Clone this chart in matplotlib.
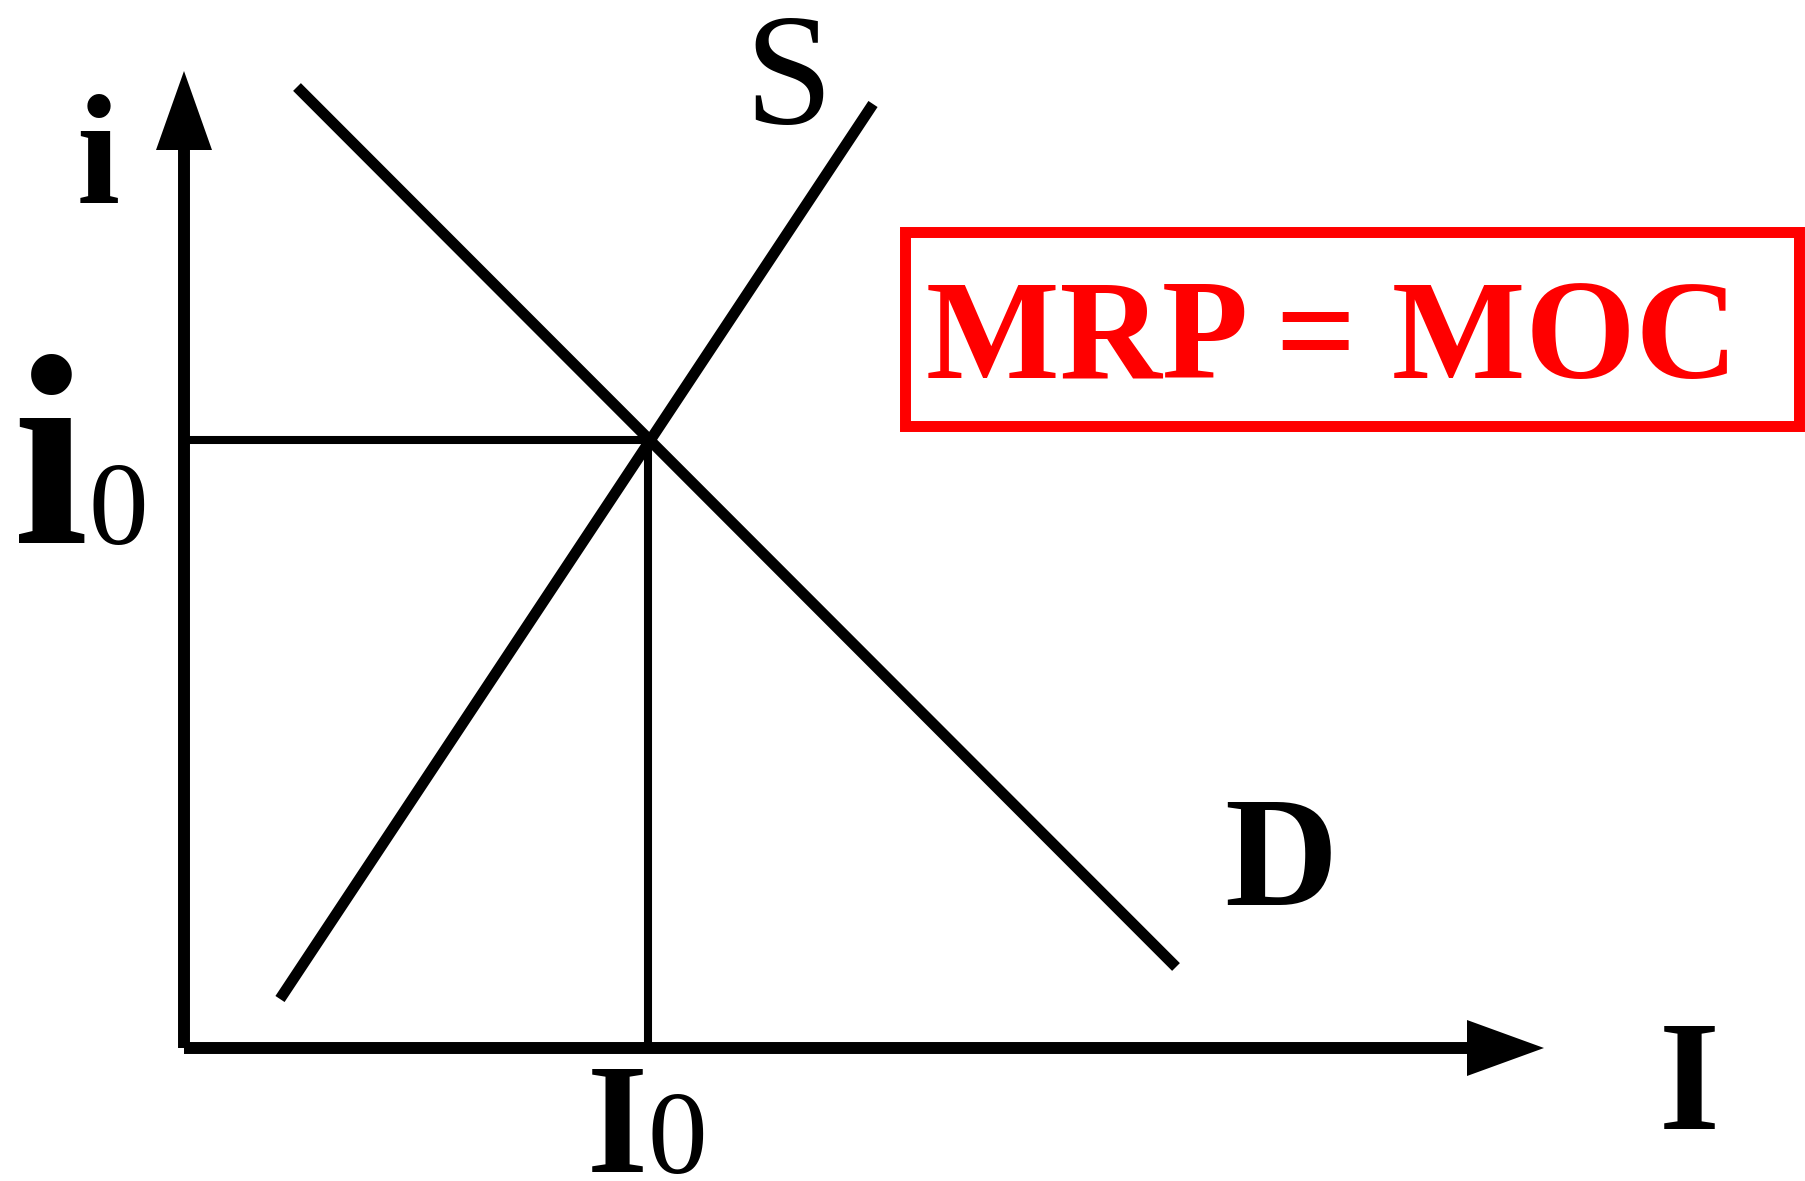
import os
import matplotlib
matplotlib.use("Agg")
import matplotlib.pyplot as plt
from matplotlib.patches import Polygon, Rectangle
from matplotlib import font_manager as fm

# ---- data (diagram coordinates, pixel-like units, y downward) ----
origin = (184, 1048)
y_axis_top = 71
x_axis_right = 1544
demand_x = [297, 1176]
demand_y = [87, 967]
supply_x = [280, 873]
supply_y = [999, 104]
eq_x, eq_y = 648, 440
equation_text = "MRP = MOC"
label_S = "S"
label_D = "D"
label_i = "i"
label_I = "I"
sub_zero = "0"

mpl_ttf = os.path.join(matplotlib.get_data_path(), "fonts", "ttf")
REG_CANDIDATES = [
    "/usr/share/fonts/truetype/liberation/LiberationSerif-Regular.ttf",
    "/usr/share/fonts/truetype/liberation2/LiberationSerif-Regular.ttf",
    os.path.join(mpl_ttf, "STIXGeneral.ttf"),
]
BOLD_CANDIDATES = [
    "/usr/share/fonts/truetype/liberation/LiberationSerif-Bold.ttf",
    "/usr/share/fonts/truetype/liberation2/LiberationSerif-Bold.ttf",
    os.path.join(mpl_ttf, "STIXGeneralBol.ttf"),
]


def pick(cands, bold):
    for c in cands:
        if os.path.exists(c):
            return c
    return None


REG_PATH = pick(REG_CANDIDATES, False)
BOLD_PATH = pick(BOLD_CANDIDATES, True)

W, H = 1805, 1181
fig = plt.figure(figsize=(W / 100, H / 100), dpi=100)
ax = fig.add_axes([0, 0, 1, 1])
ax.set_xlim(0, W)
ax.set_ylim(H, 0)
ax.axis("off")

ox, oy = origin

# axes lines
ax.plot([ox, ox], [oy, 150], color="black", lw=8.6, solid_capstyle="butt")
ax.plot([ox, 1467], [oy, oy], color="black", lw=8.6, solid_capstyle="butt")
# arrow heads
ax.add_patch(Polygon([[ox - 28, 150], [ox + 28, 150], [ox, y_axis_top]],
                     closed=True, color="black", lw=0))
ax.add_patch(Polygon([[1467, oy - 28], [1467, oy + 28], [x_axis_right, oy]],
                     closed=True, color="black", lw=0))

# guide lines to equilibrium
ax.plot([ox, eq_x], [eq_y, eq_y], color="black", lw=5.8, solid_capstyle="butt")
ax.plot([eq_x, eq_x], [eq_y, oy], color="black", lw=5.8, solid_capstyle="butt")

# demand and supply
ax.plot(demand_x, demand_y, color="black", lw=7.9, solid_capstyle="butt")
ax.plot(supply_x, supply_y, color="black", lw=7.9, solid_capstyle="butt")

# red box
ax.add_patch(Rectangle((905, 231.5), 1799 - 905, 426 - 231.5, fill=False,
                       edgecolor="#ff0000", lw=7.9))


def txt(x, y, s, bold, size, color="black"):
    path = BOLD_PATH if bold else REG_PATH
    if path:
        fp = fm.FontProperties(fname=path, size=size)
    else:
        fp = fm.FontProperties(family="serif", weight="bold" if bold else "normal",
                               size=size)
    ax.text(x, y, s, fontproperties=fp, color=color, ha="center", va="baseline")


txt(1332, 378, equation_text, True, 102, "#ff0000")

# labels
txt(788, 123, label_S, False, 114)
txt(1281, 905, label_D, True, 113)
txt(98, 203, label_i, True, 112)
txt(1689, 1129, label_I, True, 113)
# i0
txt(51, 543, label_i, True, 195)
txt(118, 544, sub_zero, False, 86)
# I0
txt(617, 1172, label_I, True, 113)
txt(677, 1173, sub_zero, False, 86)

fig.savefig("out.png", dpi=100, facecolor="white")
